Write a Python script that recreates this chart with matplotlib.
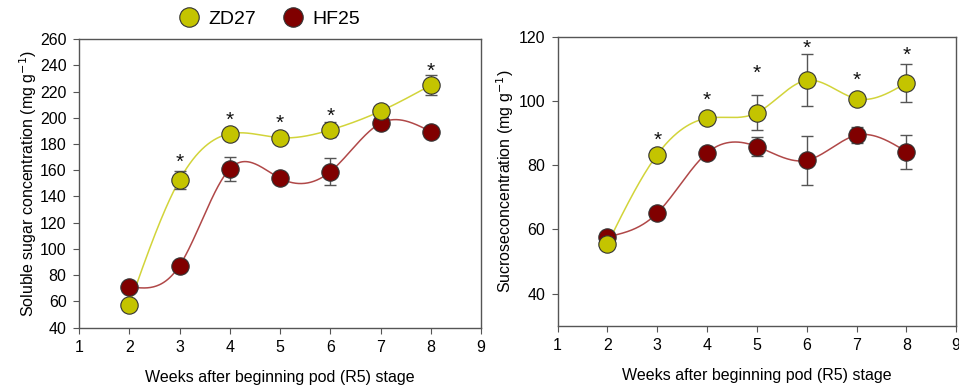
import matplotlib.pyplot as plt
import numpy as np

plt.rcParams["font.family"] = ["Liberation Sans", "DejaVu Sans"]

weeks = [2, 3, 4, 5, 6, 7, 8]

# soluble sugar (mg g-1)
sugar_zd27 = [57.3, 152.6, 187.8, 184.8, 190.7, 205.0, 224.8]
sugar_zd27_err = [0, 7.0, 3.0, 3.0, 5.7, 3.5, 7.4]
sugar_hf25 = [71.3, 87.3, 161.0, 153.9, 158.9, 195.8, 189.4]
sugar_hf25_err = [0, 0, 9.0, 2.0, 10.5, 2.5, 2.0]
sugar_star_weeks = [3, 4, 5, 6, 8]
sugar_star_y = [169, 200.4, 198.3, 203.4, 238.2]

# sucrose (mg g-1)
sucrose_zd27 = [55.5, 83.3, 94.6, 96.3, 106.4, 100.7, 105.6]
sucrose_zd27_err = [0, 0, 1.5, 5.5, 8.1, 1.0, 6.0]
sucrose_hf25 = [57.7, 65.1, 83.8, 85.8, 81.5, 89.3, 84.2]
sucrose_hf25_err = [0, 0, 1.0, 3.0, 7.6, 2.5, 5.3]
sucrose_star_weeks = [3, 4, 5, 6, 7, 8]
sucrose_star_y = [88.9, 101.3, 109.7, 117.4, 107.6, 115.2]

ZD_COLOR = "#c4c400"
HF_COLOR = "#800000"
ZD_LINE = "#d2d43a"
HF_LINE = "#b04848"
GRAY = "#555555"


def natural_spline(x, y, n=300):
    x = np.asarray(x, float)
    y = np.asarray(y, float)
    k = len(x)
    h = np.diff(x)
    A = np.zeros((k, k))
    b = np.zeros(k)
    A[0, 0] = A[-1, -1] = 1
    for i in range(1, k - 1):
        A[i, i - 1] = h[i - 1]
        A[i, i] = 2 * (h[i - 1] + h[i])
        A[i, i + 1] = h[i]
        b[i] = 6 * ((y[i + 1] - y[i]) / h[i] - (y[i] - y[i - 1]) / h[i - 1])
    m = np.linalg.solve(A, b)
    xs = np.linspace(x[0], x[-1], n)
    idx = np.clip(np.searchsorted(x, xs) - 1, 0, k - 2)
    x0, x1 = x[idx], x[idx + 1]
    hh = x1 - x0
    t0 = x1 - xs
    t1 = xs - x0
    ys = (m[idx] * t0 ** 3 + m[idx + 1] * t1 ** 3) / (6 * hh) \
        + (y[idx] / hh - m[idx] * hh / 6) * t0 \
        + (y[idx + 1] / hh - m[idx + 1] * hh / 6) * t1
    return xs, ys


def draw_panel(ax, zd, zd_err, hf, hf_err, star_w, star_y):
    for vals, errs, col, lcol in [(hf, hf_err, HF_COLOR, HF_LINE),
                                  (zd, zd_err, ZD_COLOR, ZD_LINE)]:
        xs, ys = natural_spline(weeks, vals)
        ax.plot(xs, ys, color=lcol, lw=1.1, zorder=2)
        ax.errorbar(weeks, vals, yerr=errs, fmt="none", ecolor=GRAY,
                    elinewidth=1, capsize=4, capthick=1, zorder=3)
    ax.plot(weeks, hf, "o", ms=12.5, mfc=HF_COLOR, mec="#333333", mew=0.8, zorder=4)
    ax.plot(weeks, zd, "o", ms=12.5, mfc=ZD_COLOR, mec="#333333", mew=0.8, zorder=5)
    for w, s in zip(star_w, star_y):
        ax.annotate("*", (w, s), xytext=(0, -2.5), textcoords="offset points",
                    ha="center", va="center", fontsize=15, color="#111111")
    ax.set_xlim(1, 9)
    ax.set_xticks(range(1, 10))
    for sp in ax.spines.values():
        sp.set_color(GRAY)
        sp.set_linewidth(1)
    ax.tick_params(direction="out", length=4, color=GRAY, labelsize=11.5, pad=5)
    ax.set_xlabel("Weeks after beginning pod (R5) stage", fontsize=11.5, labelpad=11)


fig = plt.figure(figsize=(9.59, 3.87), dpi=100)
ax1 = fig.add_axes([0.0824, 0.1532, 0.4192, 0.746])
ax2 = fig.add_axes([0.5815, 0.1584, 0.4155, 0.7468])

draw_panel(ax1, sugar_zd27, sugar_zd27_err, sugar_hf25, sugar_hf25_err,
           sugar_star_weeks, sugar_star_y)
ax1.set_ylim(40, 260)
ax1.set_yticks(range(40, 261, 20))
ax1.set_ylabel("Soluble sugar concentration (mg g$^{-1}$)", fontsize=11.5, labelpad=0.5)

draw_panel(ax2, sucrose_zd27, sucrose_zd27_err, sucrose_hf25, sucrose_hf25_err,
           sucrose_star_weeks, sucrose_star_y)
ax2.set_ylim(30, 120)
ax2.set_yticks(range(40, 121, 20))
ax2.set_ylabel("Sucroseconcentration (mg g$^{-1}$)", fontsize=11.5, labelpad=1.5)

h1, = ax1.plot([], [], "o", ms=14, mfc=ZD_COLOR, mec="#333333", mew=0.8)
h2, = ax1.plot([], [], "o", ms=14, mfc=HF_COLOR, mec="#333333", mew=0.8)
fig.legend([h1, h2], ["ZD27", "HF25"], loc="center", bbox_to_anchor=(0.279, 0.95),
           ncol=2, frameon=False, fontsize=14, handletextpad=0.3, columnspacing=1.2,
           handlelength=1.4)

fig.savefig("out.png", dpi=100)
